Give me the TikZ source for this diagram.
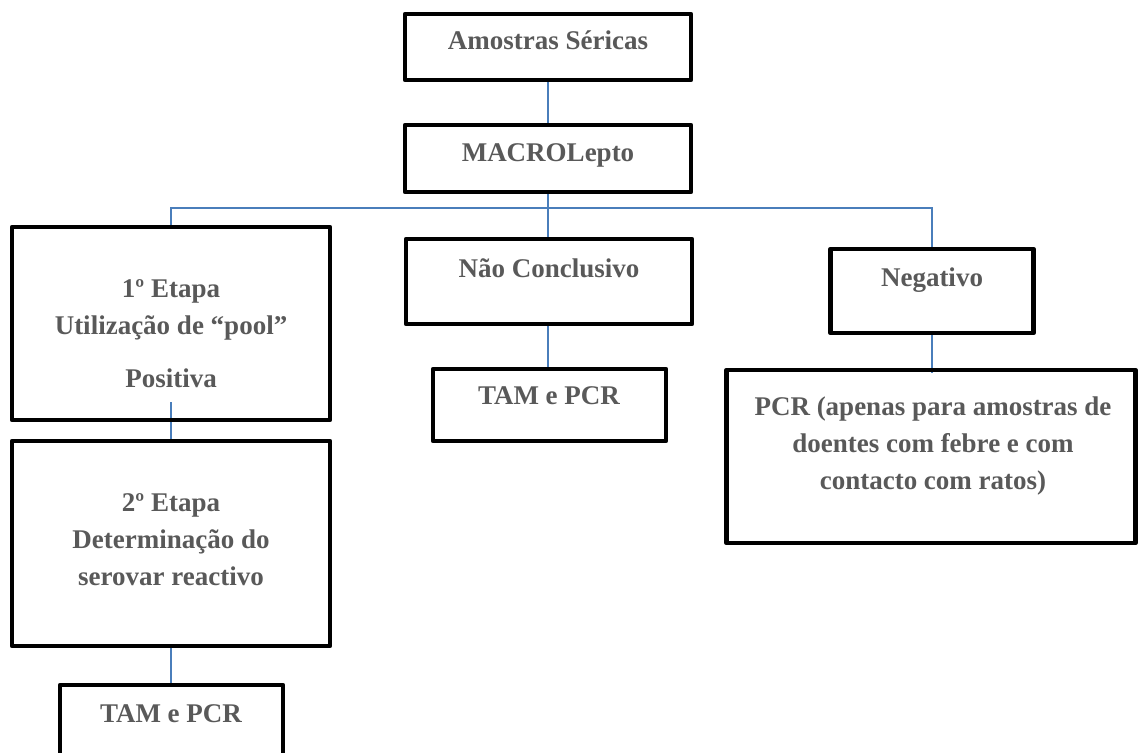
\documentclass[tikz,border=0pt]{standalone}
\usepackage{fontspec}
\setmainfont{Liberation Serif}
\usepackage{tikz}
\usetikzlibrary{calc, backgrounds}
\definecolor{mygray}{RGB}{89,89,89}
\definecolor{myblue}{RGB}{74,126,187}
\tikzset{
  box/.style={rectangle, draw=black, line width=2.2pt, line join=round},
  lbl/.style={font={\fontsize{13.5pt}{18.5pt}\selectfont\bfseries}, text=mygray,
    align=center, anchor=base, inner sep=0pt},
  link/.style={line width=0.9pt, color=myblue}
}

\begin{document}
\begin{tikzpicture}[x=0.5pt, y=-0.5pt]
  \useasboundingbox (0,0) rectangle (1140,753);
  % Boxes
  \node[box, minimum width=143pt, minimum height=33pt] (amostras) at (548,47) {};
  \node[box, minimum width=143pt, minimum height=33.5pt] (macro) at (548,158.5) {};
  \node[box, minimum width=159pt, minimum height=96.5pt] (etapa1) at (171,323.5) {};
  \node[box, minimum width=159pt, minimum height=102.5pt] (etapa2) at (171,543.5) {};
  \node[box, minimum width=111.5pt, minimum height=38pt] (tam1) at (171.5,723) {};
  \node[box, minimum width=143pt, minimum height=42.5pt] (naoconc) at (549,281.5) {};
  \node[box, minimum width=116.5pt, minimum height=36pt] (tam2) at (549.5,405) {};
  \node[box, minimum width=101.5pt, minimum height=42pt] (negativo) at (932,291) {};
  \node[box, minimum width=204.5pt, minimum height=86.5pt] (pcr) at (931,456.5) {};
  % Texts (multi-line ones sit on their last baseline)
  \node[lbl] (amostrasT) at (548,50) {Amostras Séricas};
  \node[lbl] (macroT) at (548,162) {MACROLepto};
  \node[lbl] (etapa1T) at (171,388) {1º Etapa\\Utilização de “pool”\\[8pt]Positiva};
  \node[lbl] (etapa2T) at (171,585) {2º Etapa\\Determinação do\\serovar reactivo};
  \node[lbl] (tam1T) at (171,722) {TAM e PCR};
  \node[lbl] (naoconcT) at (549,278) {Não Conclusivo};
  \node[lbl] (tam2T) at (549,405) {TAM e PCR};
  \node[lbl] (negativoT) at (932,287) {Negativo};
  \node[lbl] (pcrT) at (933,489) {PCR (apenas para amostras de\\doentes com febre e com\\contacto com ratos)};
  % Connectors
  \coordinate (split) at (548,208);
  \begin{scope}[on background layer]
    \draw[link] (amostras.south) -- (macro.north);
    \draw[link] (macro.south) -- (macro.south |- naoconc.north);
    \draw[link] (etapa1.north) |- (split) -| (negativo.north);
    \draw[link] ($(etapa1.south)+(0,-20)$) -- (etapa2.north);
    \draw[link] (etapa2.south) -- (etapa2.south |- tam1.north);
    \draw[link] (macro.south |- naoconc.south) -- (macro.south |- tam2.north);
    \draw[link] (negativo.south) -- ($(negativo.south |- pcr.north)+(0,5)$);
  \end{scope}
\end{tikzpicture}
\end{document}
